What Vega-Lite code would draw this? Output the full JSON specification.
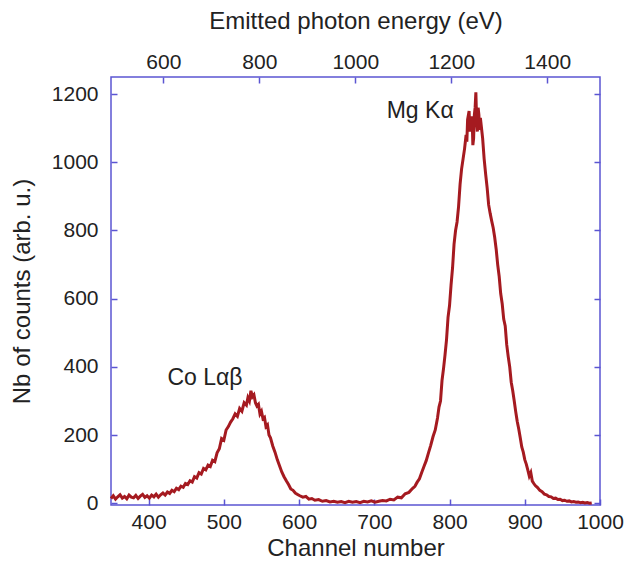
{
  "$schema": "https://vega.github.io/schema/vega-lite/v6.json",
  "width": 489,
  "height": 428,
  "autosize": {"type": "none"},
  "padding": {"left": 111, "top": 77, "right": 27, "bottom": 60},
  "background": "white",
  "config": {
    "font": "Liberation Sans",
    "view": {"stroke": "#5b55d2", "strokeWidth": 1.5},
    "axis": {
      "domain": false,
      "grid": false,
      "tickColor": "#5b55d2",
      "tickWidth": 1.5,
      "tickSize": 6,
      "offset": -6,
      "format": "d",
      "labelFlush": false,
      "labelOverlap": false,
      "labelFont": "Liberation Sans",
      "labelFontSize": 21,
      "labelColor": "#222222",
      "titleFont": "Liberation Sans",
      "titleFontSize": 24,
      "titleFontWeight": "normal",
      "titleColor": "#222222"
    }
  },
  "layer": [
    {
      "data": {
        "values": [
          {"channel": 350, "counts": 14}, {"channel": 353, "counts": 22}, {"channel": 356, "counts": 12}, {"channel": 359, "counts": 19},
          {"channel": 362, "counts": 25}, {"channel": 365, "counts": 15}, {"channel": 368, "counts": 20}, {"channel": 371, "counts": 13},
          {"channel": 374, "counts": 24}, {"channel": 377, "counts": 18}, {"channel": 380, "counts": 16}, {"channel": 383, "counts": 23},
          {"channel": 386, "counts": 14}, {"channel": 389, "counts": 21}, {"channel": 392, "counts": 26}, {"channel": 395, "counts": 17},
          {"channel": 398, "counts": 22}, {"channel": 401, "counts": 15}, {"channel": 404, "counts": 24}, {"channel": 407, "counts": 19},
          {"channel": 410, "counts": 27}, {"channel": 413, "counts": 18}, {"channel": 416, "counts": 25}, {"channel": 419, "counts": 30},
          {"channel": 422, "counts": 24}, {"channel": 425, "counts": 33}, {"channel": 428, "counts": 29}, {"channel": 431, "counts": 38},
          {"channel": 434, "counts": 34}, {"channel": 437, "counts": 44}, {"channel": 440, "counts": 40}, {"channel": 443, "counts": 50},
          {"channel": 446, "counts": 47}, {"channel": 449, "counts": 58}, {"channel": 452, "counts": 55}, {"channel": 455, "counts": 66},
          {"channel": 458, "counts": 62}, {"channel": 461, "counts": 78}, {"channel": 464, "counts": 74}, {"channel": 467, "counts": 90},
          {"channel": 470, "counts": 86}, {"channel": 473, "counts": 102}, {"channel": 476, "counts": 98}, {"channel": 479, "counts": 112},
          {"channel": 482, "counts": 108}, {"channel": 485, "counts": 126}, {"channel": 488, "counts": 122}, {"channel": 491, "counts": 148},
          {"channel": 494, "counts": 160}, {"channel": 497, "counts": 190}, {"channel": 500, "counts": 185}, {"channel": 503, "counts": 215},
          {"channel": 506, "counts": 225}, {"channel": 509, "counts": 238}, {"channel": 512, "counts": 248}, {"channel": 515, "counts": 262},
          {"channel": 518, "counts": 255}, {"channel": 521, "counts": 278}, {"channel": 524, "counts": 270}, {"channel": 527, "counts": 295},
          {"channel": 530, "counts": 288}, {"channel": 532, "counts": 310}, {"channel": 534, "counts": 300}, {"channel": 536, "counts": 330},
          {"channel": 538, "counts": 312}, {"channel": 540, "counts": 318}, {"channel": 542, "counts": 295}, {"channel": 544, "counts": 285},
          {"channel": 546, "counts": 290}, {"channel": 548, "counts": 262}, {"channel": 550, "counts": 270}, {"channel": 552, "counts": 248},
          {"channel": 554, "counts": 252}, {"channel": 556, "counts": 225}, {"channel": 558, "counts": 230}, {"channel": 560, "counts": 200},
          {"channel": 562, "counts": 192}, {"channel": 565, "counts": 168}, {"channel": 568, "counts": 150}, {"channel": 571, "counts": 128},
          {"channel": 574, "counts": 110}, {"channel": 577, "counts": 92}, {"channel": 580, "counts": 78}, {"channel": 583, "counts": 66},
          {"channel": 586, "counts": 55}, {"channel": 589, "counts": 42}, {"channel": 592, "counts": 38}, {"channel": 595, "counts": 30},
          {"channel": 598, "counts": 26}, {"channel": 601, "counts": 22}, {"channel": 605, "counts": 18}, {"channel": 609, "counts": 20},
          {"channel": 613, "counts": 12}, {"channel": 617, "counts": 14}, {"channel": 621, "counts": 9}, {"channel": 626, "counts": 11},
          {"channel": 631, "counts": 6}, {"channel": 636, "counts": 8}, {"channel": 641, "counts": 4}, {"channel": 646, "counts": 6},
          {"channel": 651, "counts": 3}, {"channel": 656, "counts": 5}, {"channel": 661, "counts": 2}, {"channel": 666, "counts": 6},
          {"channel": 671, "counts": 3}, {"channel": 676, "counts": 5}, {"channel": 681, "counts": 2}, {"channel": 686, "counts": 6},
          {"channel": 691, "counts": 4}, {"channel": 696, "counts": 7}, {"channel": 701, "counts": 3}, {"channel": 706, "counts": 6},
          {"channel": 711, "counts": 8}, {"channel": 716, "counts": 7}, {"channel": 721, "counts": 12}, {"channel": 726, "counts": 10},
          {"channel": 731, "counts": 18}, {"channel": 736, "counts": 16}, {"channel": 741, "counts": 28}, {"channel": 746, "counts": 32},
          {"channel": 751, "counts": 44}, {"channel": 754, "counts": 50}, {"channel": 757, "counts": 62}, {"channel": 760, "counts": 72},
          {"channel": 763, "counts": 90}, {"channel": 766, "counts": 108}, {"channel": 769, "counts": 125}, {"channel": 772, "counts": 148},
          {"channel": 775, "counts": 170}, {"channel": 778, "counts": 195}, {"channel": 781, "counts": 215}, {"channel": 784, "counts": 250},
          {"channel": 786, "counts": 282}, {"channel": 788, "counts": 300}, {"channel": 790, "counts": 360}, {"channel": 792, "counts": 395},
          {"channel": 794, "counts": 435}, {"channel": 796, "counts": 480}, {"channel": 798, "counts": 545}, {"channel": 800, "counts": 580},
          {"channel": 802, "counts": 640}, {"channel": 804, "counts": 690}, {"channel": 806, "counts": 760}, {"channel": 808, "counts": 800},
          {"channel": 810, "counts": 825}, {"channel": 812, "counts": 870}, {"channel": 814, "counts": 935}, {"channel": 816, "counts": 980},
          {"channel": 818, "counts": 1010}, {"channel": 820, "counts": 1040}, {"channel": 822, "counts": 1080}, {"channel": 823, "counts": 1060},
          {"channel": 824, "counts": 1125}, {"channel": 826, "counts": 1150}, {"channel": 827, "counts": 1090}, {"channel": 828, "counts": 1110},
          {"channel": 830, "counts": 1135}, {"channel": 831, "counts": 1050}, {"channel": 832, "counts": 1070}, {"channel": 833, "counts": 1140},
          {"channel": 834, "counts": 1160}, {"channel": 835, "counts": 1205}, {"channel": 836, "counts": 1120}, {"channel": 837, "counts": 1090},
          {"channel": 838, "counts": 1160}, {"channel": 839, "counts": 1140}, {"channel": 840, "counts": 1095}, {"channel": 841, "counts": 1130},
          {"channel": 842, "counts": 1110}, {"channel": 844, "counts": 1070}, {"channel": 846, "counts": 1010}, {"channel": 848, "counts": 965},
          {"channel": 850, "counts": 925}, {"channel": 852, "counts": 875}, {"channel": 854, "counts": 850}, {"channel": 856, "counts": 828},
          {"channel": 858, "counts": 808}, {"channel": 860, "counts": 780}, {"channel": 862, "counts": 745}, {"channel": 864, "counts": 700},
          {"channel": 866, "counts": 665}, {"channel": 868, "counts": 615}, {"channel": 870, "counts": 585}, {"channel": 872, "counts": 540},
          {"channel": 874, "counts": 520}, {"channel": 876, "counts": 465}, {"channel": 878, "counts": 430}, {"channel": 880, "counts": 400},
          {"channel": 882, "counts": 355}, {"channel": 884, "counts": 330}, {"channel": 886, "counts": 300}, {"channel": 888, "counts": 268},
          {"channel": 890, "counts": 240}, {"channel": 892, "counts": 218}, {"channel": 894, "counts": 192}, {"channel": 896, "counts": 165},
          {"channel": 898, "counts": 150}, {"channel": 900, "counts": 128}, {"channel": 902, "counts": 115}, {"channel": 904, "counts": 98},
          {"channel": 906, "counts": 80}, {"channel": 908, "counts": 90}, {"channel": 910, "counts": 65}, {"channel": 912, "counts": 58},
          {"channel": 914, "counts": 52}, {"channel": 917, "counts": 46}, {"channel": 920, "counts": 38}, {"channel": 923, "counts": 34},
          {"channel": 926, "counts": 27}, {"channel": 929, "counts": 25}, {"channel": 932, "counts": 20}, {"channel": 935, "counts": 19},
          {"channel": 938, "counts": 14}, {"channel": 941, "counts": 15}, {"channel": 944, "counts": 11}, {"channel": 947, "counts": 12},
          {"channel": 950, "counts": 8}, {"channel": 953, "counts": 9}, {"channel": 956, "counts": 6}, {"channel": 959, "counts": 7},
          {"channel": 962, "counts": 4}, {"channel": 965, "counts": 5}, {"channel": 968, "counts": 3}, {"channel": 971, "counts": 4},
          {"channel": 974, "counts": 2}, {"channel": 977, "counts": 3}, {"channel": 980, "counts": 1}, {"channel": 983, "counts": 2},
          {"channel": 986, "counts": 0}, {"channel": 989, "counts": 1}
        ]
      },
      "mark": {"type": "line", "color": "#a51a20", "strokeWidth": 3},
      "encoding": {
        "x": {
          "field": "channel", "type": "quantitative",
          "scale": {"domain": [350, 1000], "nice": false, "zero": false},
          "axis": {"orient": "bottom", "values": [400, 500, 600, 700, 800, 900, 1000], "title": "Channel number", "labelPadding": 6, "titlePadding": 4}
        },
        "y": {
          "field": "counts", "type": "quantitative",
          "scale": {"domain": [-5, 1250], "nice": false, "zero": false},
          "axis": {"orient": "left", "values": [0, 200, 400, 600, 800, 1000, 1200], "title": "Nb of counts (arb. u.)", "labelPadding": 13, "titlePadding": 17}
        }
      }
    },
    {
      "data": {
        "values": [
          {"channel": 475, "counts": 366, "label": "Co Lαβ"},
          {"channel": 761, "counts": 1150, "label": "Mg Kα"}
        ]
      },
      "mark": {"type": "text", "fontSize": 23, "color": "#222222", "font": "Liberation Sans"},
      "encoding": {
        "x": {"field": "channel", "type": "quantitative", "scale": {"domain": [350, 1000], "nice": false, "zero": false}, "axis": null},
        "y": {"field": "counts", "type": "quantitative", "scale": {"domain": [-5, 1250], "nice": false, "zero": false}, "axis": null},
        "text": {"field": "label"}
      }
    },
    {
      "data": {"values": [{"energy": 600, "n": 0}]},
      "mark": {"type": "point", "opacity": 0},
      "encoding": {
        "x": {
          "field": "energy", "type": "quantitative",
          "scale": {"domain": [491, 1510], "nice": false, "zero": false},
          "axis": {"orient": "top", "values": [600, 800, 1000, 1200, 1400], "title": "Emitted photon energy (eV)", "labelPadding": 5, "titlePadding": 18}
        },
        "y": {
          "field": "n", "type": "quantitative",
          "scale": {"domain": [-5, 1250], "nice": false, "zero": false},
          "axis": {"orient": "right", "values": [0, 200, 400, 600, 800, 1000, 1200], "labels": false, "title": null}
        }
      }
    }
  ],
  "resolve": {
    "scale": {"x": "independent", "y": "independent"},
    "axis": {"x": "independent", "y": "independent"}
  }
}
